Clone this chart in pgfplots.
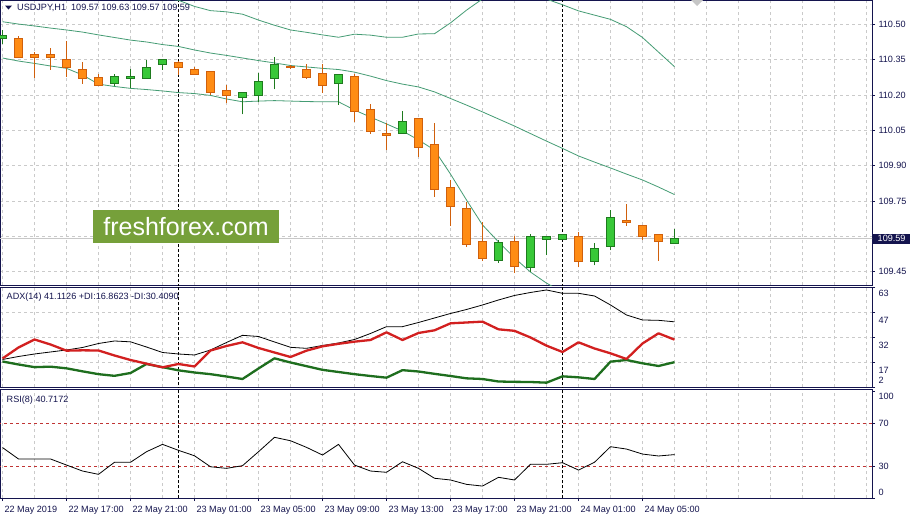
\documentclass[border=0pt]{standalone}
\usepackage{pgfplots}
\pgfplotsset{compat=1.18}
\usepackage{pgfplotstable}
\usepackage{fontspec}
\setmainfont{Liberation Sans}

\definecolor{navy}{HTML}{14144E}
\definecolor{bullfill}{HTML}{38C838}
\definecolor{bullline}{HTML}{1E7A1E}
\definecolor{bearfill}{HTML}{FF8C14}
\definecolor{bearline}{HTML}{D0600C}
\definecolor{band}{HTML}{459C74}
\definecolor{gridc}{HTML}{CACACA}
\definecolor{wm}{HTML}{76A03A}
\definecolor{minusdi}{HTML}{D22020}
\definecolor{plusdi}{HTML}{1E6E1E}
\definecolor{lvl}{HTML}{C03434}
\definecolor{pline}{HTML}{C8C8C8}
\newcommand\lbl{\fontsize{9.1}{10}\selectfont}

% bullish candles: bar index, open, high, low, close
\pgfplotstableread{
i O H L C
0 110.441 110.476 110.419 110.452
7 110.249 110.289 110.238 110.280
8 110.269 110.309 110.228 110.280
9 110.271 110.351 110.271 110.317
10 110.330 110.351 110.309 110.351
15 110.190 110.211 110.119 110.211
16 110.199 110.292 110.169 110.258
17 110.271 110.362 110.225 110.331
21 110.249 110.289 110.160 110.289
25 110.037 110.132 110.037 110.088
31 109.496 109.584 109.488 109.573
33 109.468 109.610 109.449 109.601
34 109.587 109.600 109.520 109.600
35 109.587 109.610 109.587 109.610
37 109.496 109.570 109.477 109.549
38 109.556 109.711 109.542 109.680
42 109.570 109.630 109.570 109.590
}\bulltab

% bearish candles
\pgfplotstableread{
i O H L C
1 110.442 110.450 110.359 110.360
2 110.371 110.382 110.275 110.361
3 110.371 110.399 110.309 110.361
4 110.351 110.428 110.277 110.317
5 110.309 110.340 110.249 110.272
6 110.277 110.289 110.242 110.242
11 110.339 110.344 110.285 110.316
12 110.309 110.320 110.288 110.288
13 110.300 110.300 110.200 110.210
14 110.220 110.245 110.165 110.199
18 110.319 110.327 110.310 110.318
19 110.309 110.331 110.269 110.277
20 110.289 110.331 110.210 110.241
22 110.280 110.292 110.086 110.129
23 110.139 110.162 110.037 110.048
24 110.038 110.082 109.966 110.029
26 110.101 110.101 109.938 109.978
27 109.992 110.082 109.768 109.799
28 109.808 109.839 109.645 109.725
29 109.719 109.747 109.556 109.567
30 109.579 109.661 109.496 109.505
32 109.580 109.601 109.445 109.474
36 109.601 109.618 109.468 109.491
39 109.668 109.740 109.646 109.659
40 109.648 109.648 109.587 109.598
41 109.610 109.610 109.496 109.577
}\beartab

% Bollinger bands
\pgfplotstableread{
i mid up lo
0 110.511 110.665 110.357
1 110.501 110.658 110.344
2 110.493 110.652 110.334
3 110.484 110.645 110.323
4 110.476 110.639 110.313
5 110.467 110.649 110.285
6 110.455 110.664 110.246
7 110.444 110.652 110.236
8 110.433 110.638 110.228
9 110.425 110.627 110.223
10 110.414 110.611 110.217
11 110.406 110.602 110.210
12 110.391 110.576 110.206
13 110.378 110.558 110.198
14 110.368 110.553 110.183
15 110.357 110.543 110.171
16 110.346 110.518 110.174
17 110.336 110.496 110.176
18 110.325 110.476 110.174
19 110.319 110.466 110.172
20 110.313 110.455 110.171
21 110.308 110.445 110.171
22 110.297 110.458 110.136
23 110.280 110.454 110.106
24 110.261 110.445 110.077
25 110.246 110.445 110.047
26 110.234 110.459 110.009
27 110.213 110.460 109.966
28 110.185 110.506 109.864
29 110.157 110.560 109.754
30 110.128 110.608 109.648
31 110.098 110.620 109.576
32 110.068 110.628 109.508
33 110.036 110.624 109.448
34 110.004 110.607 109.401
35 109.973 110.583 109.363
36 109.941 110.557 109.325
37 109.915 110.539 109.291
38 109.890 110.521 109.259
39 109.864 110.490 109.238
40 109.839 110.444 109.234
41 109.809 110.382 109.236
42 109.777 110.320 109.234
}\bandtab

% ADX(14), +DI, -DI, RSI(8)
\pgfplotstableread{
i adx pdi mdi rsi
0 18.5 17.3 19.1 47.3
1 20.3 15.5 25.7 36.6
2 21.8 13.9 30.5 36.6
3 23.0 14.2 27.5 36.6
4 24.2 13.2 23.8 30.9
5 25.7 11.4 24.0 25.3
6 28.1 9.7 23.9 22.2
7 29.6 8.7 20.9 33.5
8 29.1 10.4 18.2 33.5
9 26.0 15.8 16.0 43.4
10 22.7 13.9 13.8 50.3
11 21.8 12.0 15.8 44.7
12 21.2 10.7 14.3 39.6
13 24.2 9.7 23.9 29.3
14 28.7 8.3 26.6 27.8
15 33.0 6.8 28.8 30.3
16 32.3 13.1 25.4 43.4
17 29.0 19.2 22.7 56.9
18 25.8 16.7 20.0 53.7
19 25.2 14.5 23.8 47.5
20 26.9 12.3 26.4 40.3
21 28.4 11.0 27.9 50.3
22 30.5 9.7 29.2 30.9
23 34.1 8.6 30.2 25.3
24 38.2 7.6 34.8 24.1
25 38.2 12.1 30.2 34.0
26 40.7 11.3 34.4 27.8
27 43.4 9.9 36.0 18.5
28 46.1 8.6 40.2 16.9
29 48.5 7.2 40.7 12.8
30 51.2 6.8 41.2 11.2
31 54.2 5.3 36.6 19.4
32 56.9 5.1 35.7 16.9
33 58.7 5.0 31.7 31.6
34 60.2 4.6 26.8 31.6
35 58.2 8.4 23.0 33.1
36 58.2 7.8 28.8 26.2
37 56.6 6.8 25.1 33.5
38 51.2 17.2 22.2 48.1
39 45.2 18.2 18.8 45.9
40 42.2 16.2 28.1 41.2
41 42.0 14.6 34.2 39.4
42 41.1 16.9 30.4 40.7
}\indtab

\pgfdeclareplotmark{candlebody}{%
  \pgfpathrectangle{\pgfpoint{-4pt}{-0.5*\bodyh}}{\pgfpoint{8pt}{\bodyh}}%
  \pgfusepathqfillstroke}
\pgfdeclareplotmark{wick}{%
  \pgfpathmoveto{\pgfpoint{0pt}{-0.5*\wickh}}%
  \pgfpathlineto{\pgfpoint{0pt}{0.5*\wickh}}%
  \pgfusepathqstroke}

\pgfplotsset{
  mt4/.style={
    scale only axis, width=872pt,
    xmin=-0.156, xmax=54.344,
    axis line style={draw=navy, line width=0.9pt},
    tick label style={font=\lbl, text=navy},
    /pgf/number format/assume math mode=true,
    ytick pos=right, yticklabel pos=right,
    tick align=outside,
    major tick length=3pt, minor tick length=0pt,
    ytick style={draw=navy, line width=0.8pt},
    xtick={0,4,...,40},
    minor xtick={2,6,10,14,18,22,26,30,34,38,42,44,46,48,50,52,54},
    xmajorgrids, xminorgrids,
    major grid style={draw=gridc, dash pattern=on 3pt off 3pt, line width=0.7pt},
    minor grid style={draw=gridc, dash pattern=on 3pt off 3pt, line width=0.7pt},
    yticklabel style={anchor=west},
  },
  sep/.style={black, dash pattern=on 3pt off 2pt, line width=0.9pt, forget plot},
}

\begin{document}
\begin{tikzpicture}
\useasboundingbox (0,0) rectangle (915pt,-517pt);
\fill[white] (0,0) rectangle (915pt,-517pt);

% ---------------- price panel ----------------
\begin{axis}[mt4, at={(0pt,0pt)}, anchor=north west, height=285pt,
  ymin=109.3930, ymax=110.6032,
  ytick={109.45,109.60,109.75,109.90,110.05,110.20,110.35,110.50},
  yticklabels={109.45,,109.75,109.90,110.05,110.20,110.35,110.50},
  ymajorgrids, xticklabels={}, xtick style={draw=none}]
\addplot[pline, line width=0.8pt] coordinates {(-1,109.59) (56,109.59)};
\addplot[sep] coordinates {(11,109.3) (11,110.7)};
\addplot[sep] coordinates {(35,109.3) (35,110.7)};
\addplot[band, line width=0.8pt] table[x=i, y=up] {\bandtab};
\addplot[band, line width=0.8pt] table[x=i, y=mid] {\bandtab};
\addplot[band, line width=0.8pt] table[x=i, y=lo] {\bandtab};
\addplot[only marks, mark=wick, mark options={draw=bullline, line width=1pt},
  visualization depends on={(\thisrow{H}-\thisrow{L})*235.5 \as \wickh}]
  table[x=i, y expr=(\thisrow{H}+\thisrow{L})/2] {\bulltab};
\addplot[only marks, mark=wick, mark options={draw=bearline, line width=1pt},
  visualization depends on={(\thisrow{H}-\thisrow{L})*235.5 \as \wickh}]
  table[x=i, y expr=(\thisrow{H}+\thisrow{L})/2] {\beartab};
\addplot[only marks, mark=candlebody, mark options={draw=bullline, fill=bullfill, line width=1pt},
  visualization depends on={max(abs(\thisrow{O}-\thisrow{C})*235.5,1) \as \bodyh}]
  table[x=i, y expr=(\thisrow{O}+\thisrow{C})/2] {\bulltab};
\addplot[only marks, mark=candlebody, mark options={draw=bearline, fill=bearfill, line width=1pt},
  visualization depends on={max(abs(\thisrow{O}-\thisrow{C})*235.5,1) \as \bodyh}]
  table[x=i, y expr=(\thisrow{O}+\thisrow{C})/2] {\beartab};
\coordinate (pl) at (axis cs:54.344,109.59);
\end{axis}

% ---------------- ADX panel ----------------
\begin{axis}[mt4, at={(0pt,-287.3pt)}, anchor=north west, height=99.7pt,
  ymin=2, ymax=61.8, ytick={2,17,32,47,61.8}, yticklabels={2,17,32,47,63},
  ymajorgrids, xticklabels={}, xtick style={draw=none},
  yticklabel style={yshift={ifthenelse(\ticknum==0,7,ifthenelse(\ticknum==4,-6,-8.3))}}]
\addplot[sep] coordinates {(11,0) (11,70)};
\addplot[sep] coordinates {(35,0) (35,70)};
\addplot[black, line width=0.8pt] table[x=i, y=adx] {\indtab};
\addplot[plusdi, line width=2.3pt, line join=round] table[x=i, y=pdi] {\indtab};
\addplot[minusdi, line width=2.3pt, line join=round] table[x=i, y=mdi] {\indtab};
\end{axis}

% ---------------- RSI panel ----------------
\begin{axis}[mt4, at={(0pt,-389pt)}, anchor=north west, height=109pt,
  ymin=0, ymax=102.2, ytick={0,30,70,100},
  xtick pos=bottom,
  xtick style={draw=navy, line width=0.8pt},
  xticklabels={22 May 2019,22 May 17:00,22 May 21:00,23 May 01:00,23 May 05:00,23 May 09:00,23 May 13:00,23 May 17:00,23 May 21:00,24 May 01:00,24 May 05:00},
  xticklabel style={anchor=north west, xshift=-1.5pt, yshift=-2pt},
  yticklabel style={yshift={ifthenelse(\ticknum==0,5.7,ifthenelse(\ticknum==3,-5.4,0))}}]
\addplot[lvl, dash pattern=on 3pt off 3pt, line width=0.8pt] coordinates {(-1,70) (56,70)};
\addplot[lvl, dash pattern=on 3pt off 3pt, line width=0.8pt] coordinates {(-1,30) (56,30)};
\addplot[sep] coordinates {(11,-5) (11,110)};
\addplot[sep] coordinates {(35,-5) (35,110)};
\addplot[black, line width=0.8pt] table[x=i, y=rsi] {\indtab};
\end{axis}

% ---------------- labels and decorations ----------------
\node[fill=navy, text=white, anchor=west, inner xsep=4.5pt, inner ysep=1.8pt, font=\lbl, xshift=1pt] at (pl) {109.59};
\fill[navy] (5pt,-5.5pt) -- (12pt,-5.5pt) -- (8.5pt,-9.5pt) -- cycle;
\node[anchor=base west, inner sep=0pt, text=navy, font=\lbl] at (17pt,-10.3pt) {USDJPY,H1\ \ 109.57 109.63 109.57 109.59};
\node[anchor=base west, inner sep=0pt, text=navy, font=\lbl] at (6.5pt,-299.3pt) {ADX(14) 41.1126 +DI:16.8623 -DI:30.4090};
\node[anchor=base west, inner sep=0pt, text=navy, font=\lbl] at (6.5pt,-402.3pt) {RSI(8) 40.7172};
\fill[gray!45] (691pt,0pt) -- (703pt,0pt) -- (697pt,-6pt) -- cycle;
\node[fill=wm, text=white, minimum width=186pt, minimum height=33pt, inner sep=0pt,
  font=\fontsize{25}{25}\selectfont] at (186pt,-226.5pt) {freshforex.com};
\end{tikzpicture}
\end{document}
